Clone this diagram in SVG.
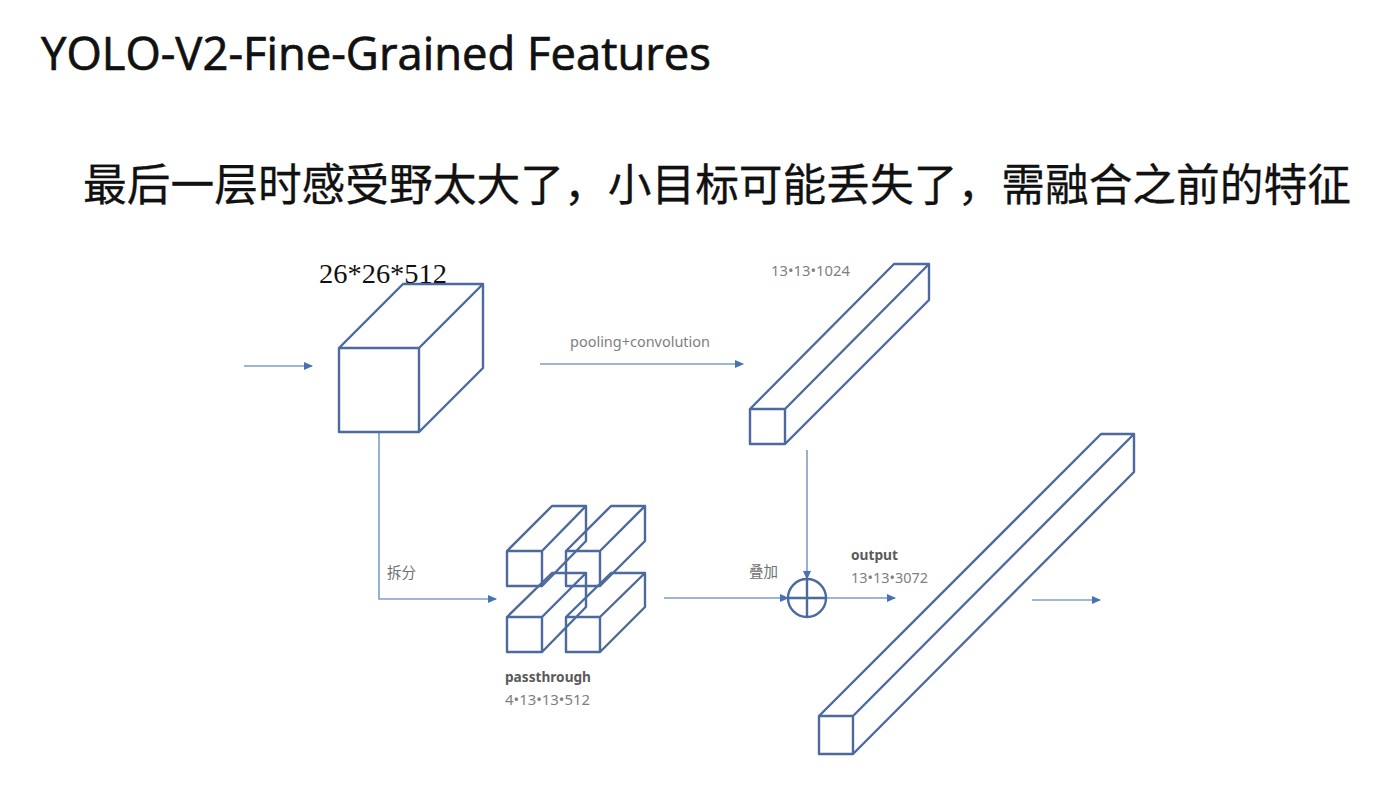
<svg xmlns="http://www.w3.org/2000/svg" width="1395" height="795" viewBox="0 0 1395 795">
<style>
.box{fill:none;stroke:#4d6a9c;stroke-width:2.4;stroke-linejoin:round}
.con{fill:none;stroke:#7f9ccb;stroke-width:1.6}
.lab{font-family:"Noto Sans",sans-serif;font-size:14.5px;fill:#808080}
.bold{font-family:"Noto Sans",sans-serif;font-size:14.5px;font-weight:700;fill:#5a5a5a}
.cjk{font-family:"Noto Sans CJK SC",sans-serif;font-size:14.5px;fill:#707070}
</style>
<defs>
<marker id="a" markerWidth="9" markerHeight="8" refX="8" refY="4" orient="auto" markerUnits="userSpaceOnUse"><path d="M0 0L9 4L0 8Z" fill="#4472b4"/></marker>
</defs>
<rect width="1395" height="795" fill="#fff"/>
<text id="title" x="41" y="70" font-family="'Open Sans','Noto Sans',sans-serif" font-size="45" fill="#111" stroke="#111" stroke-width="0.7" textLength="670" lengthAdjust="spacingAndGlyphs">YOLO-V2-Fine-Grained Features</text>
<text id="subtitle" x="83" y="201" font-family="'Noto Sans CJK SC',sans-serif" font-size="44.5" fill="#111" stroke="#111" stroke-width="0.3" textLength="1268" lengthAdjust="spacingAndGlyphs">最后一层时感受野太大了，小目标可能丢失了，需融合之前的特征</text>
<g id="connectors">
<path class="con" marker-end="url(#a)" d="M244 366H312"/>
<path class="con" marker-end="url(#a)" d="M540 364H743"/>
<path class="con" marker-end="url(#a)" d="M379 432V599H496"/>
<path class="con" marker-end="url(#a)" d="M664 598H788"/>
<path class="con" marker-end="url(#a)" d="M807 450V579"/>
<path class="con" marker-end="url(#a)" d="M826 598H895"/>
<path class="con" marker-end="url(#a)" d="M1032 600H1100"/>
</g>
<g id="cube-input">
<path class="box" d="M339 348H419V432H339ZM339 348L403 284H483L419 348M483 284V368L419 432"/>
<text x="319" y="283" font-family="'Liberation Serif',serif" font-size="28" fill="#111" textLength="128" lengthAdjust="spacingAndGlyphs">26*26*512</text>
</g>
<g id="bar-top">
<path class="box" d="M750 409H785V444H750ZM750 409L894 264H929L785 409M929 264V300L785 444"/>
<text class="lab" x="771" y="276" textLength="79" lengthAdjust="spacingAndGlyphs">13•13•1024</text>
</g>
<g id="passthrough">
<path class="box" d="M507 551H542V586H507ZM507 551L552 506H586L542 551M586 506V541L542 586"/>
<path class="box" d="M566 551H600V586H566ZM566 551L611 506H645V541L600 586M600 551L645 506"/>
<path class="box" d="M507 617H542V652H507ZM507 617L552 573H586L542 617M586 573V607L542 652"/>
<path class="box" d="M566 617H600V652H566ZM566 617L611 573H645V607L600 652M600 617L645 573"/>
<text class="bold" x="505" y="682" textLength="86" lengthAdjust="spacingAndGlyphs">passthrough</text>
<text class="lab" x="505" y="705" textLength="85" lengthAdjust="spacingAndGlyphs">4•13•13•512</text>
</g>
<g id="label-pooling"><text class="lab" x="570" y="347" textLength="140" lengthAdjust="spacingAndGlyphs">pooling+convolution</text></g>
<g id="label-split"><text class="cjk" x="387" y="578">拆分</text></g>
<g id="label-stack"><text class="cjk" x="749" y="577">叠加</text></g>
<g id="sum">
<circle class="box" cx="807" cy="598" r="19"/>
<path class="box" d="M788 598H826M807 579V617"/>
</g>
<g id="bar-output">
<path class="box" d="M819 716H853V754H819ZM819 716L1101 434H1134L853 716M1134 434V472L853 754"/>
<text class="bold" x="851" y="560" textLength="47" lengthAdjust="spacingAndGlyphs">output</text>
<text class="lab" x="851" y="583" textLength="77" lengthAdjust="spacingAndGlyphs">13•13•3072</text>
</g>
</svg>
